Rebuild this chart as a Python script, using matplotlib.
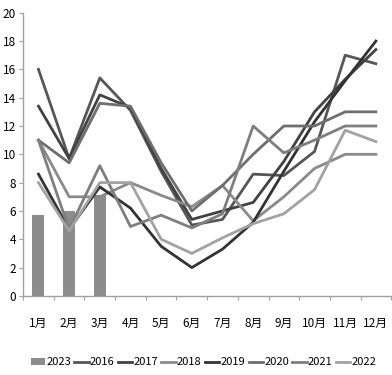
import numpy as np
import matplotlib
matplotlib.use("Agg")
import matplotlib.pyplot as plt

plt.rcParams['font.family'] = ['Liberation Sans Narrow', 'Noto Sans CJK SC', 'DejaVu Sans']

months = ["1月", "2月", "3月", "4月", "5月", "6月", "7月", "8月", "9月", "10月", "11月", "12月"]

# 2023 only has the first three months (bars)
y2023 = [5.7, 6.0, 7.1]

# earlier years as lines
y2016 = [16.0, 9.7, 15.4, 13.1, 8.8, 5.0, 5.4, 8.6, 8.5, 10.2, 17.0, 16.4]
y2017 = [13.4, 9.7, 14.2, 13.3, 9.0, 5.4, 6.0, 6.6, 9.5, 13.0, 15.3, 17.4]
y2018 = [11.0, 7.0, 7.0, 8.0, 7.1, 6.3, 7.8, 5.3, 7.0, 9.0, 10.0, 10.0]
y2019 = [8.6, 4.7, 7.7, 6.2, 3.5, 2.0, 3.3, 5.2, 8.8, 12.3, 15.2, 18.0]
y2020 = [11.0, 9.4, 13.6, 13.4, 9.4, 6.0, 7.8, 10.0, 12.0, 12.0, 13.0, 13.0]
y2021 = [11.0, 4.7, 9.2, 4.9, 5.7, 4.8, 5.8, 12.0, 10.1, 11.0, 12.0, 12.0]
y2022 = [8.0, 4.6, 8.0, 8.0, 4.0, 3.0, 4.1, 5.1, 5.8, 7.5, 11.7, 10.9]

lines = [
    ("2016", y2016, "#565656"),
    ("2017", y2017, "#424242"),
    ("2018", y2018, "#8a8a8a"),
    ("2019", y2019, "#333333"),
    ("2020", y2020, "#6e6e6e"),
    ("2021", y2021, "#7e7e7e"),
    ("2022", y2022, "#a2a2a2"),
]

fig = plt.figure(figsize=(3.92, 3.75), dpi=100)
ax = fig.add_axes([0.059, 0.211, 0.939, 0.755])

x = np.arange(len(months))
handles = []
handles.append(ax.bar(x[:len(y2023)], y2023, width=0.39, color="#8c8c8c", label="2023", zorder=2))
for name, vals, col in lines:
    h, = ax.plot(x, vals, color=col, lw=2.0, label=name, zorder=3)
    handles.append(h)

ax.set_xlim(-0.5, 11.5)
ax.set_ylim(0, 20)
ax.set_yticks(np.arange(0, 21, 2))
ax.tick_params(axis="y", labelsize=8.5, length=3, color="#a0a0a0", pad=2)

# ticks between categories, labels at centres
ax.set_xticks(np.arange(-0.5, 12, 1))
ax.set_xticklabels([])
ax.tick_params(axis="x", which="major", length=3, color="#a0a0a0")
ax.set_xticks(x, minor=True)
ax.set_xticklabels(months, minor=True)
ax.tick_params(axis="x", which="minor", length=0, labelsize=8.5, pad=15)

for s in ["top", "right"]:
    ax.spines[s].set_visible(False)
for s in ["left", "bottom"]:
    ax.spines[s].set_color("#a0a0a0")
    ax.spines[s].set_linewidth(1.0)

ax.legend(handles=handles, loc="center", bbox_to_anchor=(0.49, -0.235), ncol=8,
          frameon=False, fontsize=8, handlelength=1.3, handletextpad=0.1,
          columnspacing=0.3, handleheight=0.7, borderpad=0.1)

fig.savefig("out.png", dpi=100)
